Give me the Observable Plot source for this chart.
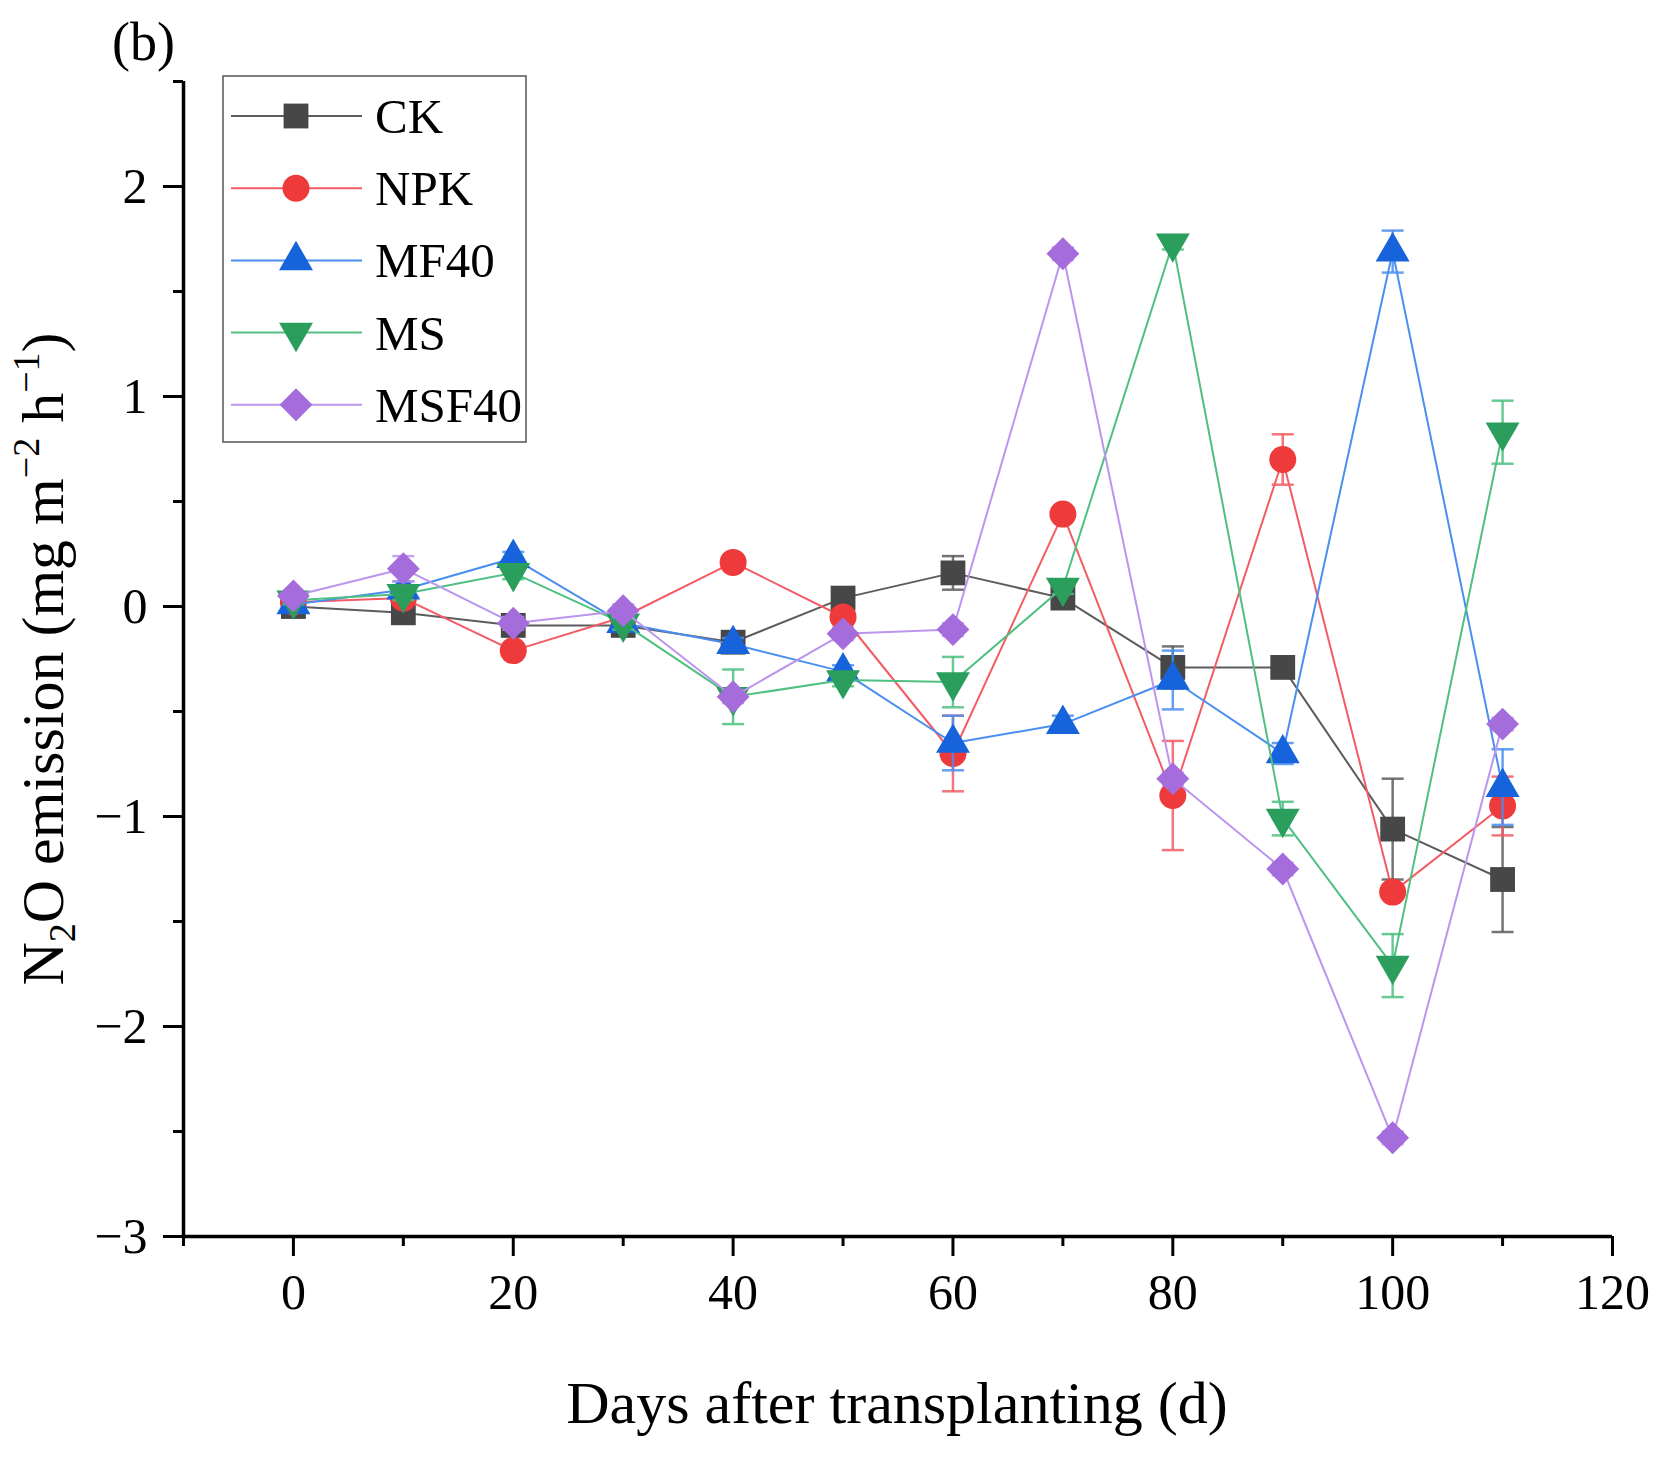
<!DOCTYPE html>
<html><head><meta charset="utf-8">
<script src="https://cdn.jsdelivr.net/npm/d3@7"></script>
<script src="https://cdn.jsdelivr.net/npm/@observablehq/plot@0.6"></script>
<style>
body{margin:0;background:#fff;}
#chart{position:relative;width:1661px;height:1461px;}
</style>
</head><body><div id="chart"></div>
<script>
// ---- data ----
const days = [0, 10, 20, 30, 40, 50, 60, 70, 80, 90, 100, 110];
const seriesNames = ["CK", "NPK", "MF40", "MS", "MSF40"];
const ck     = [0.00, -0.03, -0.09, -0.09, -0.17, 0.04, 0.16, 0.04, -0.29, -0.29, -1.06, -1.30];
const ckErr  = [0.02, 0.03, 0.05, 0.03, 0.03, 0.03, 0.08, 0.04, 0.10, 0.02, 0.24, 0.25];
const npk    = [0.02, 0.04, -0.21, -0.05, 0.21, -0.05, -0.70, 0.44, -0.90, 0.70, -1.36, -0.95];
const npkErr = [0.02, 0.03, 0.03, 0.03, 0.03, 0.03, 0.18, 0.03, 0.26, 0.12, 0.03, 0.14];
const mf40   = [0.01, 0.08, 0.23, -0.08, -0.18, -0.31, -0.65, -0.56, -0.35, -0.70, 1.69, -0.86];
const mf40Err= [0.02, 0.04, 0.03, 0.03, 0.03, 0.03, 0.13, 0.04, 0.14, 0.05, 0.10, 0.18];
const ms     = [0.03, 0.06, 0.16, -0.08, -0.43, -0.35, -0.36, 0.09, 1.73, -1.01, -1.71, 0.83];
const msErr  = [0.02, 0.03, 0.03, 0.03, 0.13, 0.03, 0.12, 0.03, 0.03, 0.08, 0.15, 0.15];
const msf40  = [0.05, 0.18, -0.08, -0.02, -0.43, -0.13, -0.11, 1.68, -0.82, -1.25, -2.53, -0.56];
const msf40Err=[0.02, 0.06, 0.03, 0.03, 0.03, 0.03, 0.03, 0.03, 0.03, 0.03, 0.03, 0.03];
const xMajorTicks = [0, 20, 40, 60, 80, 100, 120];
const xMinorTicks = [-10, 10, 30, 50, 70, 90, 110];
const yMajorTicks = [-3, -2, -1, 0, 1, 2];
const yMinorTicks = [-2.5, -1.5, -0.5, 0.5, 1.5, 2.5];

// ---- styles ----
const values = [ck, npk, mf40, ms, msf40];
const errors = [ckErr, npkErr, mf40Err, msErr, msf40Err];
const markerColors = ["#474747", "#ee3a3a", "#1763dc", "#2b9e5d", "#a56cdc"];
const lineColors   = ["#5c5c5c", "#f35c64", "#4a8ef0", "#4fbf82", "#bb95ee"];
const triangleDown = {
  draw(context, size) {
    const y = -Math.sqrt(size / (Math.sqrt(3) * 3));
    context.moveTo(0, -y * 2);
    context.lineTo(-Math.sqrt(3) * y, y);
    context.lineTo(Math.sqrt(3) * y, y);
    context.closePath();
  }
};
const capSymbol = {
  draw(context) { context.moveTo(-11, 0); context.lineTo(11, 0); }
};
const symbols = [d3.symbolSquare, d3.symbolCircle, d3.symbolTriangle, triangleDown, d3.symbolDiamond2];
const radii = [14, 13.5, 12.6, 12.6, 14.8];

const seriesMarks = [];
seriesNames.forEach((name, i) => {
  const rows = days.map((d, j) => ({series: name, day: d, value: values[i][j], err: errors[i][j]}));
  seriesMarks.push(
    Plot.line(rows, {x: "day", y: "value", stroke: lineColors[i], strokeWidth: 2}),
    Plot.ruleX(rows, {x: "day", y1: d => d.value - d.err, y2: d => d.value + d.err, stroke: lineColors[i], strokeWidth: 2.5, strokeOpacity: 0.85}),
    Plot.dot(rows, {x: "day", y: d => d.value + d.err, symbol: capSymbol, stroke: lineColors[i], strokeWidth: 2.5, strokeOpacity: 0.85, r: 5}),
    Plot.dot(rows, {x: "day", y: d => d.value - d.err, symbol: capSymbol, stroke: lineColors[i], strokeWidth: 2.5, strokeOpacity: 0.85, r: 5}),
    Plot.dot(rows, {x: "day", y: "value", symbol: symbols[i], fill: markerColors[i], stroke: "none", r: radii[i]})
  );
});

const chart = Plot.plot({
  width: 1661,
  height: 1461,
  marginLeft: 183,
  marginRight: 49,
  marginTop: 81,
  marginBottom: 225,
  x: {domain: [-10, 120]},
  y: {domain: [-3, 2.5]},
  style: {fontFamily: "'Liberation Serif', 'Times New Roman', serif", fontSize: "50px", color: "#000", background: "#fff", overflow: "visible"},
  marks: [
    Plot.axisX({ticks: xMajorTicks, tickSize: 20, tickPadding: 17, strokeWidth: 3, label: null, tickFormat: d => d3.format("d")(d)}),
    Plot.axisX({ticks: xMinorTicks, tickSize: 10, strokeWidth: 3, label: null, tickFormat: () => ""}),
    Plot.axisY({ticks: yMajorTicks, tickSize: 20, tickPadding: 16, strokeWidth: 3, label: null, tickFormat: d => d3.format("d")(d).replace("-", "\u2212")}),
    Plot.axisY({ticks: yMinorTicks, tickSize: 10, strokeWidth: 3, label: null, tickFormat: () => ""}),
    Plot.ruleX([-10], {strokeWidth: 3.5, stroke: "#000"}),
    Plot.ruleY([-3], {strokeWidth: 3.5, stroke: "#000"}),
    ...seriesMarks
  ]
});

const svg = d3.select(chart);

// y-axis label
const yl = svg.append("text")
  .attr("transform", "translate(63,659) rotate(-90)")
  .attr("text-anchor", "middle")
  .attr("font-size", 60)
  .attr("fill", "#000");
yl.append("tspan").text("N");
yl.append("tspan").attr("font-size", 38).attr("dy", 12).text("2");
yl.append("tspan").attr("dy", -12).text("O emission (mg m");
yl.append("tspan").attr("font-size", 38).attr("dy", -24).text("\u22122");
yl.append("tspan").attr("dy", 24).text(" h");
yl.append("tspan").attr("font-size", 38).attr("dy", -24).text("\u22121");
yl.append("tspan").attr("dy", 24).text(")");

// x-axis label
svg.append("text")
  .attr("x", 897).attr("y", 1423)
  .attr("text-anchor", "middle")
  .attr("font-size", 60)
  .attr("fill", "#000")
  .text("Days after transplanting (d)");

// panel tag
svg.append("text")
  .attr("x", 112).attr("y", 60)
  .attr("text-anchor", "start")
  .attr("font-size", 54)
  .attr("fill", "#000")
  .text("(b)");

// legend
const lg = svg.append("g");
lg.append("rect").attr("x", 223).attr("y", 76).attr("width", 303).attr("height", 366)
  .attr("fill", "#fff").attr("stroke", "#555").attr("stroke-width", 1.5);
seriesNames.forEach((name, i) => {
  const cy = 116 + i * 72.2;
  lg.append("line").attr("x1", 231).attr("x2", 362).attr("y1", cy).attr("y2", cy)
    .attr("stroke", lineColors[i]).attr("stroke-width", 2);
  lg.append("path")
    .attr("d", d3.symbol(symbols[i], Math.PI * radii[i] * radii[i])())
    .attr("transform", `translate(296,${cy})`)
    .attr("fill", markerColors[i]);
  lg.append("text").attr("x", 375).attr("y", cy + 17)
    .attr("text-anchor", "start")
    .attr("font-size", 49).attr("fill", "#000").text(name);
});

document.getElementById("chart").appendChild(chart);
</script>
</body></html>
